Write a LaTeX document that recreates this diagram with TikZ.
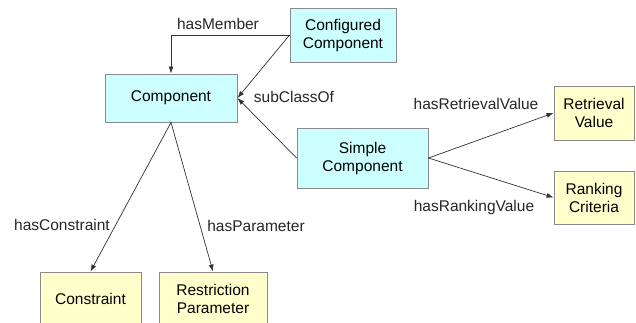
\documentclass[tikz,border=0pt]{standalone}
\usepackage{fontspec}
\setmainfont{Liberation Sans}
\usetikzlibrary{arrows.meta}
\definecolor{classfill}{HTML}{CCFFFF}
\definecolor{valuefill}{HTML}{FFFFCC}
\definecolor{boxline}{HTML}{8A8A8A}
\definecolor{relline}{HTML}{333333}

\begin{document}
\begin{tikzpicture}[x=1pt, y=-1pt,
  font=\fontsize{15.5}{18}\selectfont,
  cls/.style={draw=boxline, line width=0.9pt, fill=classfill, align=center, inner sep=0pt},
  val/.style={draw=boxline, line width=0.9pt, fill=valuefill, align=center, inner sep=0pt},
  rel/.style={draw=relline, line width=0.7pt, -{Latex[length=7pt,width=5pt]}},
  lbl/.style={text=black!85, inner sep=0pt}]
 \clip (0, 0) rectangle (636, 322);
  % classes
  \node[cls, minimum width=132pt, minimum height=48pt] (comp) at (171, 98) {Component};
  \node[cls, minimum width=106pt, minimum height=54pt] (conf) at (343, 35) {Configured\\Component};
  \node[cls, minimum width=131pt, minimum height=60pt] (simple) at (362.5, 158) {Simple\\Component};
  % value boxes
  \node[val, minimum width=80pt, minimum height=54pt] (retr) at (594, 113) {Retrieval\\Value};
  \node[val, minimum width=80pt, minimum height=53pt] (rank) at (594, 197.5) {Ranking\\Criteria};
  \node[val, minimum width=101pt, minimum height=54pt] (constr) at (90.5, 299) {Constraint};
  \node[val, minimum width=108pt, minimum height=54pt] (restr) at (213, 299) {Restriction\\Parameter};
  % relations
  \draw[rel] (conf.west) -| (comp.north);
  \draw[rel] (conf.west) -- (comp.east);
  \draw[rel] (simple.west) -- (comp.east);
  \draw[rel] (simple.east) -- (retr.west);
  \draw[rel] (simple.east) -- (rank.west);
  \draw[rel] (comp.south) -- (constr.north);
  \draw[rel] (comp.south) -- (restr.north);
  \node[lbl] (member) at (218, 24) {hasMember};
  \node[lbl] (subclass) at (294, 97) {subClassOf};
  \node[lbl] (retrlbl) at (476, 104) {hasRetrievalValue};
  \node[lbl] (ranklbl) at (474, 207) {hasRankingValue};
  \node[lbl] (constrlbl) at (62, 225) {hasConstraint};
  \node[lbl] (paramlbl) at (256, 226) {hasParameter};
 \end{tikzpicture}
\end{document}
